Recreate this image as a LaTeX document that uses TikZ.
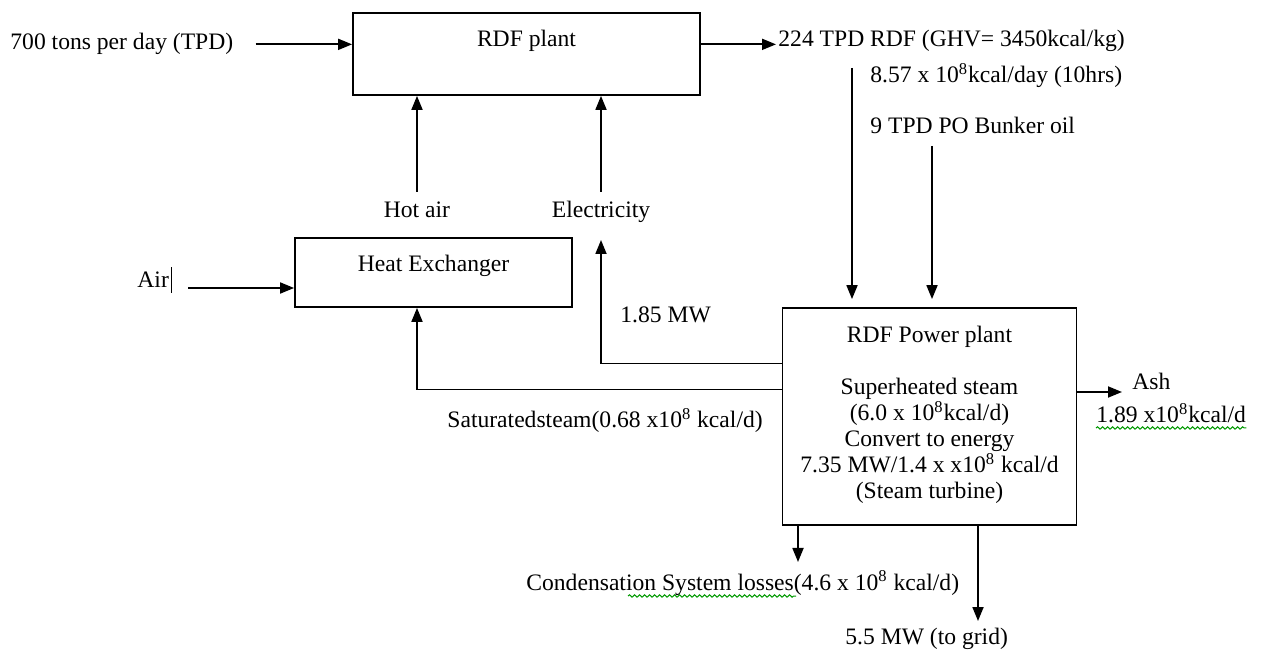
\documentclass[tikz,border=0pt]{standalone}
\usepackage{fontspec}
\setmainfont{Liberation Serif}
\usetikzlibrary{arrows.meta,decorations.pathmorphing}

\tikzset{
  block/.style={draw, line width=0.9pt, inner sep=0pt},
  flow/.style={line width=0.9pt, -{Triangle[length=7pt,width=5.5pt]}},
  lbl/.style={inner sep=0pt, font=\fontsize{11.8}{13}\selectfont},
  spell/.style={green!60!black, line width=0.5pt, decorate,
    decoration={snake, amplitude=0.6pt, segment length=2.5pt}}
}

\begin{document}
\begin{tikzpicture}[x=0.5pt, y=-0.5pt]
  \useasboundingbox (0,0) rectangle (1263,651);

  % boxes
  \node[block, minimum width=173.5pt, minimum height=41pt] (rdf) at (526.5,54) {};
  \node[block, minimum width=138.5pt, minimum height=34.5pt] (hx) at (433.5,272.5) {};
  \node[block, minimum width=147pt, minimum height=108.5pt] (pp) at (929.5,416.5) {};

  % texts in boxes
  \node[lbl, anchor=base] (rdftxt) at (526.5,47) {RDF plant};
  \node[lbl, anchor=base] (hxtxt) at (433.5,272) {Heat Exchanger};
  \node[lbl, anchor=north, align=center] (pptxt) at (929.5,326)
    {RDF Power plant\\[13pt]
     Superheated steam\\
     (6.0 x 10\textsuperscript{8}kcal/d)\\
     Convert to energy\\
     7.35 MW/1.4 x x10\textsuperscript{8} kcal/d\\
     (Steam turbine)};

  % labels
  \node[lbl, anchor=base west] (in700) at (10,50) {700 tons per day (TPD)};
  \node[lbl, anchor=base west] (rdfout) at (778,47) {224 TPD RDF (GHV= 3450kcal/kg)};
  \node[lbl, anchor=base west] (rdfheat) at (870,83) {8.57 x 10\textsuperscript{8}kcal/day (10hrs)};
  \node[lbl, anchor=base west] (oil) at (870,134) {9 TPD PO Bunker oil};
  \node[lbl, anchor=base] (hotair) at (417,218) {Hot air};
  \node[lbl, anchor=base] (elec) at (601,218) {Electricity};
  \node[lbl, anchor=base west] (air) at (137,288) {Air};
  \node[lbl, anchor=base west] (mw) at (620,323) {1.85 MW};
  \node[lbl, anchor=base west] (satsteam) at (447,428) {Saturatedsteam(0.68 x10\textsuperscript{8} kcal/d)};
  \node[lbl, anchor=base west] (ash) at (1132,390) {Ash};
  \node[lbl, anchor=base west] (ashval) at (1096,423) {1.89 x10\textsuperscript{8}kcal/d};
  \node[lbl, anchor=base west] (cond) at (526,590) {Condensation System losses(4.6 x 10\textsuperscript{8} kcal/d)};
  \node[lbl, anchor=base west] (grid) at (845,644) {5.5 MW (to grid)};

  % free ends
  \coordinate (rdfdrop) at (852,68);
  \coordinate (oildrop) at (932,146);
  \coordinate (ashtip) at (1122,392);
  \coordinate (condtip) at (798,562);
  \coordinate (gridtip) at (978,621);

  % connectors
  \draw[flow] ([xshift=11pt]in700.east) -- (in700.east -| rdf.west);
  \draw[flow] (rdf.east |- in700.east) -- ([xshift=-1pt]rdfout.west |- in700.east);
  \draw[flow] (rdfdrop) -- ([yshift=4pt]rdfdrop |- pp.north);
  \draw[flow] (oildrop) -- ([yshift=4pt]oildrop |- pp.north);
  \draw[flow] ([yshift=13pt]hotair.base) -- (hotair.base |- rdf.south);
  \draw[flow] ([yshift=13pt]elec.base) -- (elec.base |- rdf.south);
  \draw[flow] ([xshift=9.5pt]air.base east) -- (air.base east -| hx.west);
  \draw[flow] ([yshift=26.5pt]pp.west) -| ([yshift=-11pt]elec.base);
  \draw[flow] ([yshift=13.5pt]pp.west) -| (hotair.base |- hx.south);
  \draw[flow] (pp.east |- ashtip) -- (ashtip);
  \draw[flow] (pp.south -| condtip) -- (condtip);
  \draw[flow] (pp.south -| gridtip) -- (gridtip);

  % cursor mark after Air
  \draw[line width=0.7pt] ([xshift=1pt,yshift=-2.5pt]air.base east) -- ++(0,-26);

  % spell-check marks
  \draw[spell] ([yshift=-2.5pt]ashval.base west) -- ([yshift=-2.5pt]ashval.base east);
  \draw[spell] (628,596) -- (796,596);
\end{tikzpicture}
\end{document}
